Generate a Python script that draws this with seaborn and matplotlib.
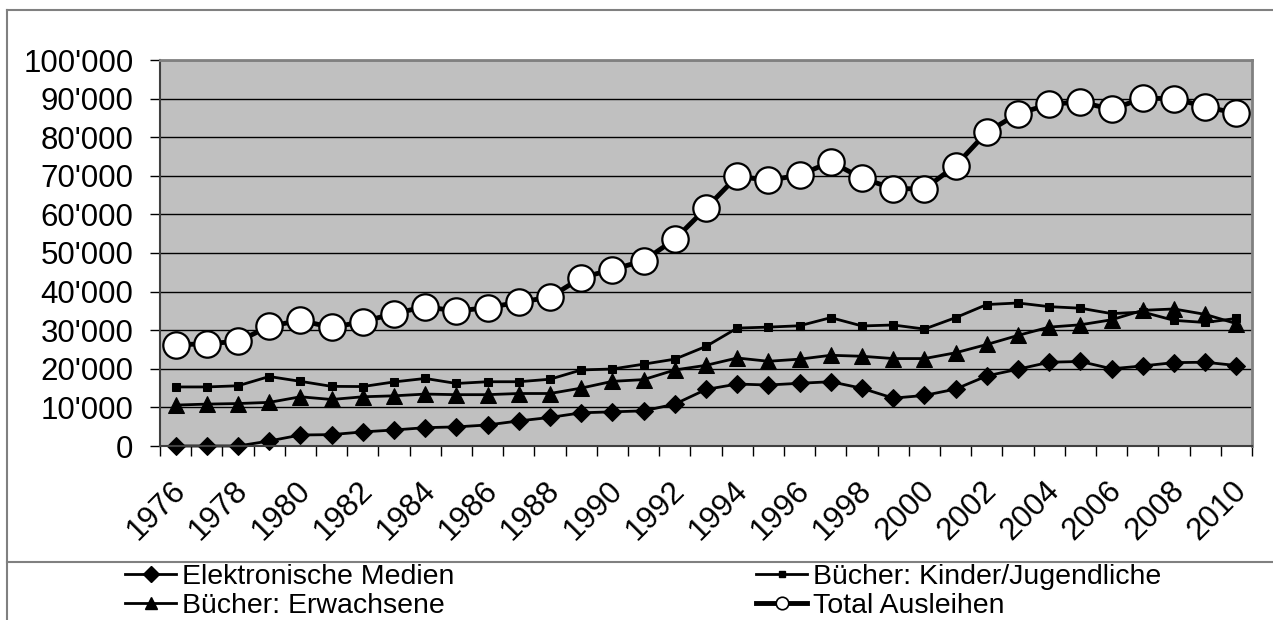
import numpy as np
import pandas as pd
import seaborn as sns
import matplotlib.pyplot as plt
from matplotlib.lines import Line2D
from matplotlib.ticker import FixedLocator, FuncFormatter
from matplotlib.transforms import ScaledTranslation

# Ausleihen pro Jahr
jahre = list(range(1976, 2011))

elektronische_medien = [0, 0, 0, 1300, 2850, 2950, 3650, 4150, 4750, 4950, 5450, 6500,
                        7400, 8600, 8850, 9100, 10850, 14650, 16050, 15800, 16250, 16650,
                        14950, 12400, 13100, 14750, 18150, 19900, 21700, 21900, 20000,
                        20750, 21600, 21700, 20850]

kinder_jugendliche = [15300, 15300, 15600, 18000, 16750, 15450, 15400, 16600, 17500, 16200,
                      16650, 16650, 17300, 19700, 19950, 21200, 22500, 25800, 30550, 30800,
                      31150, 33250, 31100, 31350, 30300, 33250, 36650, 37050, 36100, 35700,
                      34300, 34700, 32550, 32000, 33050]

erwachsene = [10600, 10850, 11000, 11300, 12750, 12050, 12750, 13000, 13450, 13300, 13300,
              13600, 13600, 15000, 16750, 17200, 19700, 20900, 22800, 21950, 22500, 23500,
              23250, 22650, 22650, 24150, 26300, 28650, 30800, 31400, 32700, 35150, 35500,
              34100, 31700]

total_ausleihen = [26200, 26500, 27100, 31000, 32550, 30700, 32200, 34300, 36100, 34950,
                   35850, 37250, 38550, 43600, 45700, 48000, 53550, 61600, 69900, 68800,
                   70200, 73600, 69400, 66700, 66600, 72650, 81300, 86100, 88500, 89150,
                   87200, 90100, 90000, 87900, 86200]

namen = ['Elektronische Medien', 'Bücher: Kinder/Jugendliche',
         'Bücher: Erwachsene', 'Total Ausleihen']

df = pd.DataFrame({
    'Jahr': jahre,
    namen[0]: elektronische_medien,
    namen[1]: kinder_jugendliche,
    namen[2]: erwachsene,
    namen[3]: total_ausleihen,
})

plt.rcParams['font.family'] = ['Liberation Sans', 'DejaVu Sans']
fs_achse = 22.5
fs_legende = 20.5

fig = plt.figure(figsize=(12.73, 6.2), dpi=100)
ax = fig.add_axes([160 / 1273, 1 - 446 / 620, (1252 - 160) / 1273, (446 - 60) / 620])
ax.set_facecolor('#c0c0c0')

# Linien zeichnen
sns.lineplot(data=df, x='Jahr', y=namen[0], ax=ax, color='black', lw=2,
             marker='D', markersize=9, markeredgecolor='black', legend=False, clip_on=False)
sns.lineplot(data=df, x='Jahr', y=namen[1], ax=ax, color='black', lw=2,
             marker='s', markersize=6, markeredgecolor='black', legend=False)
sns.lineplot(data=df, x='Jahr', y=namen[2], ax=ax, color='black', lw=2,
             marker='^', markersize=11, markeredgecolor='black', legend=False)
sns.lineplot(data=df, x='Jahr', y=namen[3], ax=ax, color='black', lw=3.5,
             marker='o', markersize=19, markerfacecolor='white',
             markeredgecolor='black', markeredgewidth=1.6, legend=False)

# Achsen
ax.set_ylim(0, 100000)
ax.set_xlim(1975.5, 2010.5)
ax.set_yticks(np.arange(0, 100001, 10000))
ax.yaxis.set_major_formatter(FuncFormatter(lambda v, p: f"{int(v):,}".replace(",", "'")))
ax.yaxis.grid(True, color='black', lw=1)
ax.set_axisbelow(True)
ax.set_xlabel('')
ax.set_ylabel('')

ax.xaxis.set_major_locator(FixedLocator(np.arange(1975.5, 2011, 1)))
ax.xaxis.set_minor_locator(FixedLocator(jahre[::2]))
ax.xaxis.set_major_formatter(FuncFormatter(lambda v, p: ''))
ax.xaxis.set_minor_formatter(FuncFormatter(lambda v, p: f"{int(round(v))}"))
ax.tick_params(axis='x', which='major', length=7, width=1, color='black', direction='out')
ax.tick_params(axis='x', which='minor', length=0, pad=21, labelsize=fs_achse)
ax.tick_params(axis='y', length=7, width=1, color='black', pad=12, labelsize=fs_achse)
verschiebung = ScaledTranslation(-5 / 100, 0, fig.dpi_scale_trans)
for lbl in ax.get_xticklabels(minor=True):
    lbl.set_rotation(45)
    lbl.set_ha('right')
    lbl.set_va('top')
    lbl.set_rotation_mode('anchor')
    lbl.set_transform(lbl.get_transform() + verschiebung)

ax.spines['left'].set_color('#404040')
ax.spines['left'].set_linewidth(1.5)
ax.spines['bottom'].set_color('#404040')
ax.spines['bottom'].set_linewidth(1.5)
for s in ['top', 'right']:
    ax.spines[s].set_color('#808080')
    ax.spines[s].set_linewidth(2)

# Rahmen um Diagramm und Legende
rahmen = dict(color='#808080', lw=1.5, transform=fig.transFigure)
fig.add_artist(Line2D([7 / 1273, 1], [1 - 10 / 620, 1 - 10 / 620], **rahmen))
fig.add_artist(Line2D([7 / 1273, 7 / 1273], [0, 1 - 10 / 620], **rahmen))
fig.add_artist(Line2D([7 / 1273, 1], [1 - 562 / 620, 1 - 562 / 620], **rahmen))

# Legende
handles = [
    Line2D([], [], color='black', lw=2, marker='D', markersize=8),
    Line2D([], [], color='black', lw=2, marker='^', markersize=9),
    Line2D([], [], color='black', lw=2, marker='s', markersize=5),
    Line2D([], [], color='black', lw=3.5, marker='o', markersize=9,
           markerfacecolor='white', markeredgewidth=1.2),
]
labels = [namen[0], namen[2], namen[1], namen[3]]
fig.legend(handles, labels, loc='upper left', bbox_to_anchor=(125 / 1273, 1 - 564 / 620),
           ncol=2, frameon=False, fontsize=fs_legende, handlelength=1.8, handletextpad=0.2,
           columnspacing=10.6, labelspacing=0.12, borderpad=0, borderaxespad=0)

plt.savefig('out.png', dpi=100)
